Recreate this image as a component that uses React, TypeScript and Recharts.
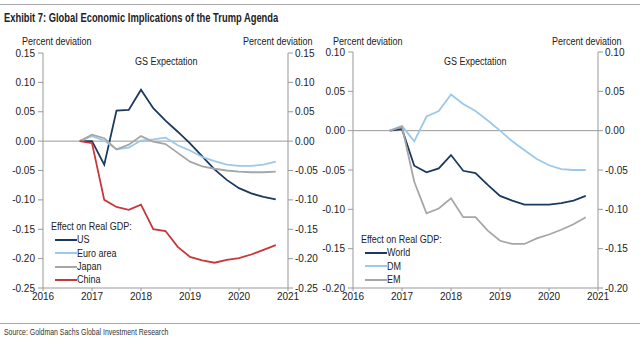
import React from "react";
import { LineChart, Line, XAxis, YAxis, ReferenceLine } from "recharts";

const quarters = [2016.75, 2017.0, 2017.25, 2017.5, 2017.75, 2018.0, 2018.25, 2018.5, 2018.75, 2019.0, 2019.25, 2019.5, 2019.75, 2020.0, 2020.25, 2020.5, 2020.75];

const us = [0, 0, -0.04, 0.052, 0.053, 0.0875, 0.056, 0.035, 0.016, -0.004, -0.026, -0.048, -0.066, -0.08, -0.089, -0.095, -0.099];
const euroArea = [0, 0.0085, 0.001, -0.014, -0.011, 0.001, 0.003, 0.006, -0.007, -0.016, -0.027, -0.034, -0.04, -0.042, -0.042, -0.04, -0.035];
const japan = [0, 0.011, 0.005, -0.014, -0.006, 0.0085, -0.001, -0.005, -0.02, -0.035, -0.043, -0.047, -0.05, -0.052, -0.053, -0.053, -0.052];
const china = [0, -0.0035, -0.1, -0.112, -0.117, -0.108, -0.15, -0.153, -0.18, -0.197, -0.203, -0.207, -0.202, -0.199, -0.193, -0.185, -0.177];

const world = [0, 0.002, -0.0445, -0.053, -0.048, -0.031, -0.051, -0.054, -0.069, -0.083, -0.089, -0.094, -0.094, -0.094, -0.092, -0.089, -0.083];
const dm = [0, 0.006, -0.0135, 0.018, 0.025, 0.046, 0.034, 0.025, 0.013, 0, -0.0135, -0.025, -0.036, -0.044, -0.049, -0.05, -0.05];
const em = [0, 0.005, -0.065, -0.105, -0.099, -0.086, -0.11, -0.11, -0.127, -0.14, -0.144, -0.144, -0.137, -0.132, -0.126, -0.119, -0.11];

const yearTicks = [2016, 2017, 2018, 2019, 2020, 2021];
const leftTicks = [0.15, 0.1, 0.05, 0, -0.05, -0.1, -0.15, -0.2, -0.25];
const rightTicks = [0.1, 0.05, 0, -0.05, -0.1, -0.15, -0.2];

const title = "Exhibit 7: Global Economic Implications of the Trump Agenda";
const source = "Source: Goldman Sachs Global Investment Research";
const axisTitle = "Percent deviation";
const panelTitle = "GS Expectation";
const legendTitle = "Effect on Real GDP:";

const NAVY = "#1b3a5f";
const LIGHT = "#9cc8ea";
const GRAY = "#a6a6a6";
const RED = "#c8373a";
const AXIS = "#999999";

const leftSeries = [
  { key: "US", values: us, color: NAVY },
  { key: "Euro area", values: euroArea, color: LIGHT },
  { key: "Japan", values: japan, color: GRAY },
  { key: "China", values: china, color: RED },
];
const rightSeries = [
  { key: "World", values: world, color: NAVY },
  { key: "DM", values: dm, color: LIGHT },
  { key: "EM", values: em, color: GRAY },
];

const build = (series: { key: string; values: number[] }[]) =>
  quarters.map((q, i) => {
    const row: Record<string, number> = { t: q };
    series.forEach((s) => (row[s.key] = s.values[i]));
    return row;
  });

const FONT = "'Liberation Sans', Arial, sans-serif";
const fmt = (v: number) => v.toFixed(2);
const tickStyle = { fontSize: 10, fill: "#222", fontFamily: FONT };

const textStyle: React.CSSProperties = {
  position: "absolute",
  fontFamily: FONT,
  fontSize: 10,
  color: "#222",
  whiteSpace: "nowrap",
  lineHeight: "12px",
  transform: "scaleX(0.9)",
  transformOrigin: "left center",
};

const LegendBox = ({ items, x, y, rowH }: { items: { key: string; color: string }[]; x: number; y: number; rowH: number }) => (
  <div style={{ position: "absolute", left: x, top: y, fontFamily: FONT, fontSize: 10, color: "#222" }}>
    <div style={{ ...textStyle, position: "relative", height: rowH, lineHeight: rowH + "px" }}>{legendTitle}</div>
    {items.map((it) => (
      <div key={it.key} style={{ display: "flex", alignItems: "center", height: rowH, lineHeight: rowH + "px" }}>
        <span style={{ display: "inline-block", marginLeft: 4, width: 22, height: 2, background: it.color }} />
        <span style={{ display: "inline-block", transform: "scaleX(0.9)", transformOrigin: "left center", whiteSpace: "nowrap" }}>{it.key}</span>
      </div>
    ))}
  </div>
);

const Panel = ({ series, domain, ticks, left, leftAxisW, rightAxisW, top, bottom }: any) => {
  const data = build(series);
  return (
    <div style={{ position: "absolute", left, top: 0 }}>
      <LineChart width={320} height={339} data={data} margin={{ top, bottom, left: 0, right: 0 }}>
        <XAxis
          dataKey="t"
          type="number"
          domain={[2016, 2021]}
          ticks={yearTicks}
          stroke={AXIS}
          tick={tickStyle}
          tickSize={3}
          tickMargin={2}
          height={20}
          interval={0}
        />
        <YAxis
          yAxisId="l"
          type="number"
          domain={domain}
          ticks={ticks}
          tickFormatter={fmt}
          stroke={AXIS}
          tick={tickStyle}
          width={leftAxisW}
          tickSize={5}
          tickMargin={3}
          allowDataOverflow
          interval={0}
        />
        <YAxis
          yAxisId="r"
          orientation="right"
          type="number"
          domain={domain}
          ticks={ticks}
          tickFormatter={fmt}
          stroke={AXIS}
          tick={tickStyle}
          width={rightAxisW}
          tickSize={5}
          tickMargin={2}
          allowDataOverflow
          interval={0}
        />
        <ReferenceLine yAxisId="l" y={0} stroke={AXIS} strokeWidth={1} />
        {series.map((s: any) => (
          <Line
            key={s.key}
            yAxisId="l"
            dataKey={s.key}
            stroke={s.color}
            strokeWidth={1.8}
            dot={false}
            type="linear"
            isAnimationActive={false}
          />
        ))}
      </LineChart>
    </div>
  );
};

export default function App() {
  return (
    <div style={{ position: "absolute", left: 0, top: 0, width: 640, height: 339, background: "white", overflow: "hidden" }}>
      <div style={{ position: "absolute", left: 0, top: 4, width: 640, height: 1, background: "#aaa" }} />
      <div
        style={{
          position: "absolute",
          left: 4,
          top: 10,
          fontFamily: FONT,
          fontWeight: "bold",
          fontSize: 13,
          lineHeight: "15px",
          color: "#222",
          whiteSpace: "nowrap",
          transform: "scaleX(0.72)",
          transformOrigin: "left center",
        }}
      >
        {title}
      </div>
      <Panel series={leftSeries} domain={[-0.25, 0.15]} ticks={leftTicks} left={0} leftAxisW={43} rightAxisW={32} top={53} bottom={31} />
      <Panel series={rightSeries} domain={[-0.2, 0.1]} ticks={rightTicks} left={320} leftAxisW={33} rightAxisW={42} top={52} bottom={31} />
      <div style={{ ...textStyle, left: 22, top: 36 }}>{axisTitle}</div>
      <div style={{ ...textStyle, left: 243, top: 36 }}>{axisTitle}</div>
      <div style={{ ...textStyle, left: 135, top: 56 }}>{panelTitle}</div>
      <div style={{ ...textStyle, left: 333, top: 36 }}>{axisTitle}</div>
      <div style={{ ...textStyle, left: 552, top: 36 }}>{axisTitle}</div>
      <div style={{ ...textStyle, left: 444, top: 56 }}>{panelTitle}</div>
      <LegendBox items={leftSeries} x={51} y={220} rowH={13.3} />
      <LegendBox items={rightSeries} x={361} y={233} rowH={13.3} />
      <div style={{ position: "absolute", left: 0, top: 323, width: 640, height: 1, background: "#aaa" }} />
      <div
        style={{
          ...textStyle,
          left: 4,
          top: 327,
          fontSize: 9,
          lineHeight: "11px",
          color: "#333",
          transform: "scaleX(0.77)",
        }}
      >
        {source}
      </div>
    </div>
  );
}
